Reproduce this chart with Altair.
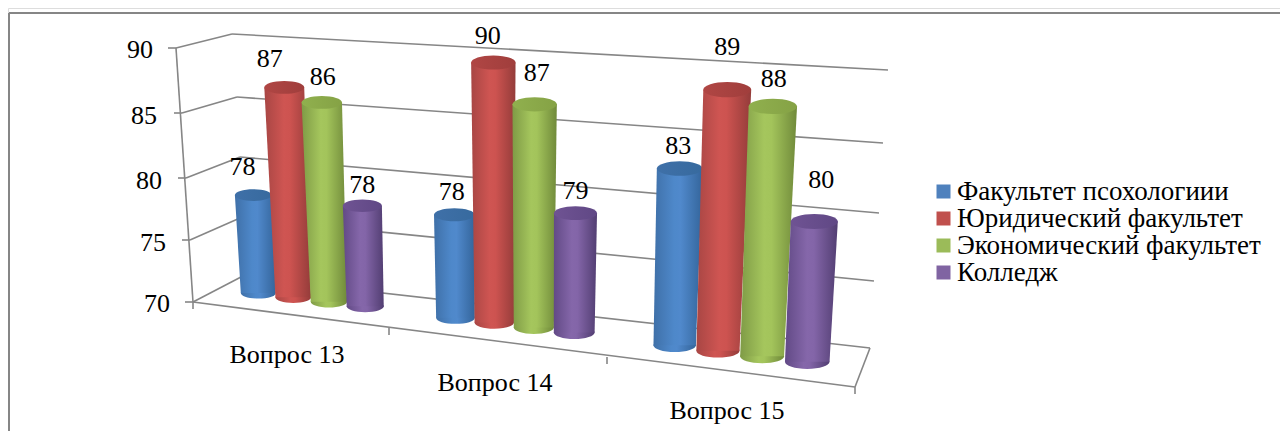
import altair as alt
import numpy as np
import pandas as pd

# ---- data
categories = ["Вопрос 13", "Вопрос 14", "Вопрос 15"]
series = ["Факультет псохологиии", "Юридический факультет", "Экономический факультет", "Колледж"]
psych = [78, 78, 83]
law = [87, 90, 89]
econ = [86, 87, 88]
college = [78, 79, 80]
ticks = [70, 75, 80, 85, 90]

# ---- styles
FONT = "Liberation Serif"
GRID = "#868686"
legend_colors = ["#4F81BD", "#C0504D", "#9BBB59", "#8064A2"]
body_stops = [
    ["#3F70A8", "#4E88CA", "#5089CC", "#34659B"],
    ["#A84644", "#CF5552", "#CD5350", "#943C3A"],
    ["#7F9B46", "#A5C65D", "#A3C45B", "#708A3A"],
    ["#624A86", "#8567AA", "#8365A8", "#523E72"],
]
cap_stops = [
    ["#3F70A8", "#376A9E"],
    ["#B04644", "#A03E3C"],
    ["#90B04E", "#85A245"],
    ["#6F5393", "#604885"],
]

# ---- pseudo-3D frame of the chart (picture coordinates)
W, H = 1272, 423
back_left = {70: (241, 277), 75: (240, 218), 80: (240, 157), 85: (237, 97), 90: (232, 34)}
back_right = {70: (870, 348), 75: (874, 281), 80: (879, 213), 85: (883, 143), 90: (888, 70)}
front_left = {70: (193, 302), 75: (190, 240), 80: (186, 178), 85: (182, 113), 90: (176, 48)}
floor_front = [(193, 302), (389, 328), (607, 357), (855, 387)]
floor_right = (855, 387)
tick_len = 7
tick_label_right = {70: 170, 75: 166, 80: 162, 85: 157, 90: 153}
tick_label_dy = {70: 2, 75: 3, 80: 3, 85: 3, 90: 2}
cat_label_nudge = [(-4, 40), (-3, 40), (-4, 39)]
# hand placement of the value labels, relative to the cylinder top
label_nudge = [
    [(-11, -28), (-2.5, -23), (-1.5, -23)],
    [(-14.5, -28), (-5.5, -27), (0, -43)],
    [(1, -25), (2, -31), (1, -27)],
    [(0, -21), (0, -22), (7, -42)],
]


def project(k, v):
    """plane of the cylinders: k = category position, v = value"""
    w = 1 - 0.0509 * k
    xb = (311 + 176.8 * k) / w
    yb = (299.5 + 8.96 * k) / w
    y = (299.5 + 8.96 * k - 12.4 * (v - 70)) / w
    x = xb + (xb - 514) * 0.0024 * (v - 70)
    return x, y, yb, xb, w


values = [psych, law, econ, college]
bodies, caps, labels = [], [], []
for s, vals in enumerate(values):
    for c, v in enumerate(vals):
        k = c + (s - 1.5) * 0.185
        xt, yt, yb, xb, _ = project(k, v)
        wb = 36 + 3.75 * k
        wt = wb + 0.25 * (v - 70)
        name = f"{s}-{c}"
        bodies.append(dict(s=s, id=name, xl=xb - wb / 2, xr=xb + wb / 2, y=yb))
        bodies.append(dict(s=s, id=name, xl=xt - wt / 2, xr=xt + wt / 2, y=yt))
        caps.append(dict(s=s, x=xt, y=yt, size=wt * wt, bottom=False))
        caps.append(dict(s=s, x=xb, y=yb, size=wb * wb, bottom=True))
        dx, dy = label_nudge[s][c]
        labels.append(dict(x=xt + dx, y=yt + dy, t=str(v)))

bodies = pd.DataFrame(bodies)
caps = pd.DataFrame(caps)
labels = pd.DataFrame(labels)

xs = alt.Scale(domain=[8, 8 + W], range=[0, W])
ys = alt.Scale(domain=[8 + H, 8], range=[H, 0])
X = lambda f="x": alt.X(f"{f}:Q", scale=xs, axis=None)
Y = lambda f="y": alt.Y(f"{f}:Q", scale=ys, axis=None)

# frame lines
seg = []
for t in ticks:
    seg.append((front_left[t], back_left[t]))
    seg.append((back_left[t], back_right[t]))
    seg.append(((front_left[t][0] - tick_len - 1, front_left[t][1]), front_left[t]))
seg.append((front_left[90], front_left[70]))
seg.append((floor_front[0], floor_front[-1]))
seg.append((back_right[70], floor_right))
for p in floor_front:
    seg.append((p, (p[0], p[1] + tick_len)))
frame = pd.DataFrame([dict(x=a[0], y=a[1], x2=b[0], y2=b[1]) for a, b in seg])
frame_layer = alt.Chart(frame).mark_rule(color=GRID, strokeWidth=1.6).encode(
    x=X(), y=Y(), x2="x2:Q", y2="y2:Q")

# outer border: only the top and left edges fall inside the picture
border = pd.DataFrame([dict(x=9, y=13, x2=1280, y2=13), dict(x=9, y=13, x2=9, y2=431)])
border_layer = alt.Chart(border).mark_rule(color="#868686", strokeWidth=2).encode(
    x=X(), y=Y(), x2="x2:Q", y2="y2:Q")

ELLIPSE = "M-1,0A1,0.32,0,1,1,1,0A1,0.32,0,1,1,-1,0Z"


def grad(stops, offs):
    return alt.Gradient(gradient="linear", x1=0, x2=1, y1=0, y2=0,
                        stops=[alt.GradientStop(offset=o, color=c) for o, c in zip(offs, stops)])


layers = [border_layer, frame_layer]
for s in range(len(series)):
    body = grad(body_stops[s], [0, 0.42, 0.55, 1])
    cap = grad(cap_stops[s], [0, 1])
    layers.append(alt.Chart(caps[(caps.s == s) & caps.bottom]).mark_point(
        shape=ELLIPSE, filled=True, fill=body, opacity=1, strokeWidth=0).encode(
        x=X(), y=Y(), size=alt.Size("size:Q", scale=None, legend=None)))
    layers.append(alt.Chart(bodies[bodies.s == s]).mark_area(orient="horizontal", fill=body).encode(
        x=X("xl"), x2="xr:Q", y=Y(), detail="id:N"))
    layers.append(alt.Chart(caps[(caps.s == s) & ~caps.bottom]).mark_point(
        shape=ELLIPSE, filled=True, fill=cap, opacity=1, strokeWidth=0).encode(
        x=X(), y=Y(), size=alt.Size("size:Q", scale=None, legend=None)))

# value labels
layers.append(alt.Chart(labels).mark_text(font=FONT, fontSize=26, color="black", align="center", baseline="middle").encode(
    x=X(), y=Y(), text="t:N"))

# tick labels
tick_df = pd.DataFrame([dict(x=tick_label_right[t], y=front_left[t][1] + tick_label_dy[t], t=str(t)) for t in ticks])
layers.append(alt.Chart(tick_df).mark_text(font=FONT, fontSize=26, color="black", align="right", baseline="middle").encode(
    x=X(), y=Y(), text="t:N"))

# category labels
cat_df = pd.DataFrame([
    dict(x=(floor_front[i][0] + floor_front[i + 1][0]) / 2 + cat_label_nudge[i][0],
         y=(floor_front[i][1] + floor_front[i + 1][1]) / 2 + cat_label_nudge[i][1], t=categories[i])
    for i in range(3)])
layers.append(alt.Chart(cat_df).mark_text(font=FONT, fontSize=26, color="black", align="center", baseline="middle").encode(
    x=X(), y=Y(), text="t:N"))

# legend carrier
leg_df = pd.DataFrame(dict(series=series, x=[900] * 4, y=[200] * 4))
layers.append(alt.Chart(leg_df).mark_square(opacity=0).encode(
    x=X(), y=Y(),
    color=alt.Color("series:N", scale=alt.Scale(domain=series, range=legend_colors),
                    legend=alt.Legend(title=None, orient="none", legendX=922, legendY=170,
                                      symbolType="square", symbolSize=196, symbolOpacity=1,
                                      symbolStrokeWidth=0, labelFont=FONT, labelFontSize=27,
                                      labelColor="black", rowPadding=-2, labelOffset=0,
                                      labelLimit=400, padding=0))))

chart = alt.layer(*layers).properties(
    width=W, height=H, padding=0, autosize=alt.AutoSizeParams(type="none")
).configure_view(stroke=None).configure(background="white")

chart.save("out.html", embed_options={"renderer": "svg", "actions": False})
